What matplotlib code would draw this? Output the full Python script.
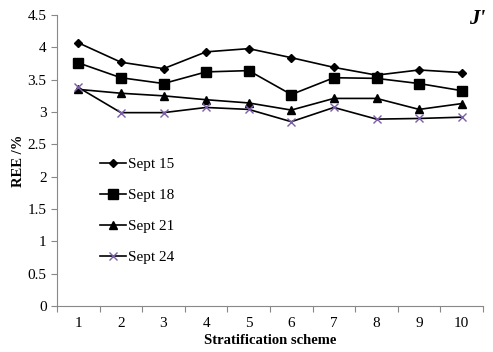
import matplotlib
matplotlib.use("Agg")
import matplotlib.pyplot as plt

schemes = [1, 2, 3, 4, 5, 6, 7, 8, 9, 10]
sept15 = [4.07, 3.77, 3.67, 3.93, 3.98, 3.84, 3.69, 3.57, 3.65, 3.61]
sept18 = [3.76, 3.53, 3.44, 3.62, 3.64, 3.27, 3.53, 3.52, 3.44, 3.33]
sept21 = [3.35, 3.29, 3.25, 3.19, 3.14, 3.03, 3.21, 3.21, 3.04, 3.13]
sept24 = [3.38, 2.99, 2.99, 3.07, 3.04, 2.85, 3.07, 2.89, 2.90, 2.92]
labels = ["Sept 15", "Sept 18", "Sept 21", "Sept 24"]

plt.rcParams["font.family"] = ["Liberation Serif", "DejaVu Serif"]

fig = plt.figure(figsize=(4.93, 3.52), dpi=100)
ax = fig.add_axes([57 / 493, 1 - 306 / 352, (483 - 57) / 493, (306 - 15) / 352])

ax.plot(schemes, sept15, color="black", lw=1.2, marker="D", ms=4.5, label=labels[0])
ax.plot(schemes, sept18, color="black", lw=1.2, marker="s", ms=6.5, label=labels[1])
ax.plot(schemes, sept21, color="black", lw=1.2, marker="^", ms=6, label=labels[2])
ax.plot(schemes, sept24, color="black", lw=1.2, marker="x", ms=6,
        mec="#7b5ea7", mew=1.0, label=labels[3])

ax.set_xlim(0.5, 10.5)
ax.set_ylim(0, 4.5)
ax.set_yticks([0, 0.5, 1, 1.5, 2, 2.5, 3, 3.5, 4, 4.5])
ax.set_yticklabels(["0", "0.5", "1", "1.5", "2", "2.5", "3", "3.5", "4", "4.5"])
ax.set_xticks([x + 0.5 for x in range(0, 11)])
ax.set_xticklabels([])
ax.set_xticks(schemes, minor=True)
ax.set_xticklabels([str(s) for s in schemes], minor=True)
ax.tick_params(axis="x", which="major", length=4, direction="out", color="#888888")
ax.tick_params(axis="x", which="minor", length=0, labelsize=11, pad=8)
ax.tick_params(axis="y", length=4, direction="out", color="#888888", labelsize=11)

for side in ["top", "right"]:
    ax.spines[side].set_visible(False)
for side in ["left", "bottom"]:
    ax.spines[side].set_color("#888888")

ax.set_xlabel("Stratification scheme", fontsize=10.5, fontweight="bold", labelpad=3)
ax.set_ylabel("REE /%", fontsize=10.5, fontweight="bold", labelpad=2)

leg = ax.legend(loc="upper left", bbox_to_anchor=(0.101, 0.51), frameon=False,
                fontsize=11, handlelength=1.7, handletextpad=0.1, labelspacing=1.13,
                borderpad=0, borderaxespad=0)

fig.text(0.985, 0.945, "J'", fontsize=15, fontweight="bold", fontstyle="italic",
         ha="right", va="center")

fig.savefig("out.png", dpi=100)
